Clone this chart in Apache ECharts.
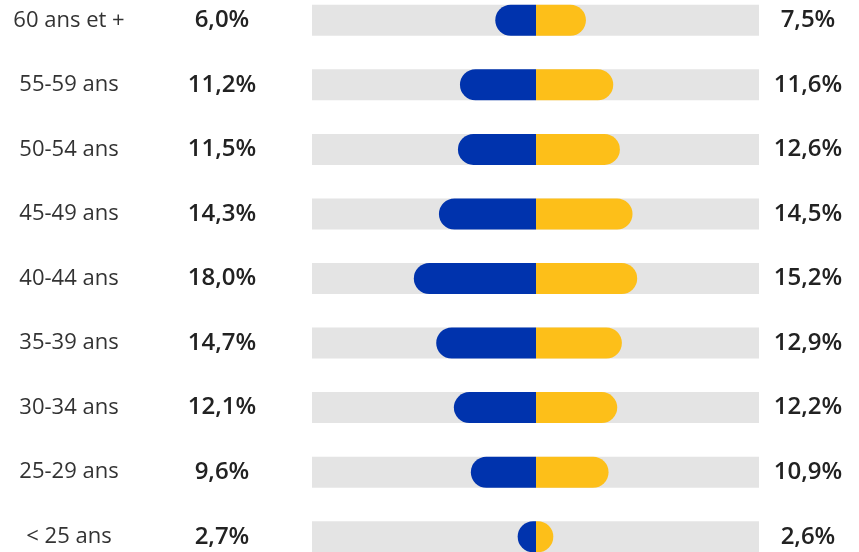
<!DOCTYPE html>
<html>
<head>
<meta charset="utf-8">
<script src="https://cdn.jsdelivr.net/npm/echarts@6/dist/echarts.min.js"></script>
<style>
  html, body { margin: 0; padding: 0; background: #fff; overflow: hidden; }
  body { position: relative; width: 859px; height: 552px; }
  #chart { position: absolute; left: 0; top: -12px; width: 859px; height: 581px; }
</style>
</head>
<body>
<div id="chart"></div>
<script>
  // tranches d'âge, de haut en bas
  var ageGroups = ['60 ans et +', '55-59 ans', '50-54 ans', '45-49 ans', '40-44 ans', '35-39 ans', '30-34 ans', '25-29 ans', '< 25 ans'];
  var leftValues = [6.0, 11.2, 11.5, 14.3, 18.0, 14.7, 12.1, 9.6, 2.7];   // bleu
  var rightValues = [7.5, 11.6, 12.6, 14.5, 15.2, 12.9, 12.2, 10.9, 2.6]; // jaune

  var fmt = function (v) {
    return v.toFixed(1).replace('.', ',') + '%';
  };
  var leftLabels = leftValues.map(fmt);
  var rightLabels = rightValues.map(fmt);

  var catAxisBase = {
    type: 'category',
    inverse: true,
    axisLine: { show: false },
    axisTick: { show: false },
    splitLine: { show: false }
  };

  var chart = echarts.init(document.getElementById('chart'));
  chart.setOption({
    backgroundColor: '#fff',
    animation: false,
    textStyle: { fontFamily: 'Open Sans' },
    grid: [
      { left: 312, width: 224, top: 0, bottom: 0 },
      { left: 536, width: 223, top: 0, bottom: 0 }
    ],
    xAxis: [
      { type: 'value', gridIndex: 0, min: 0, max: 33, inverse: true, show: false },
      { type: 'value', gridIndex: 1, min: 0, max: 33.5, show: false }
    ],
    yAxis: [
      Object.assign({}, catAxisBase, {
        gridIndex: 0,
        data: ageGroups,
        axisLabel: { align: 'center', margin: 243, fontSize: 22, color: '#333', fontFamily: 'Open Sans', padding: [5, 0, 0, 0] }
      }),
      Object.assign({}, catAxisBase, {
        gridIndex: 0,
        position: 'left',
        data: leftLabels,
        axisLabel: { align: 'center', margin: 90, fontSize: 24, fontWeight: 600, color: '#222', fontFamily: 'Open Sans', padding: [4, 0, 0, 0] }
      }),
      Object.assign({}, catAxisBase, {
        gridIndex: 1,
        position: 'right',
        data: rightLabels,
        axisLabel: { align: 'center', margin: 49, fontSize: 24, fontWeight: 600, color: '#222', fontFamily: 'Open Sans', padding: [4, 0, 0, 0] }
      })
    ],
    series: [
      {
        type: 'bar',
        xAxisIndex: 0,
        yAxisIndex: 0,
        barWidth: 31,
        data: leftValues,
        showBackground: true,
        backgroundStyle: { color: '#e4e4e4' },
        itemStyle: { color: '#0033ad', borderRadius: [15.5, 0, 0, 15.5] },
        silent: true
      },
      {
        type: 'bar',
        xAxisIndex: 1,
        yAxisIndex: 2,
        barWidth: 31,
        data: rightValues,
        showBackground: true,
        backgroundStyle: { color: '#e4e4e4' },
        itemStyle: { color: '#fdbf19', borderRadius: [0, 15.5, 15.5, 0] },
        silent: true
      }
    ]
  });
</script>
</body>
</html>
